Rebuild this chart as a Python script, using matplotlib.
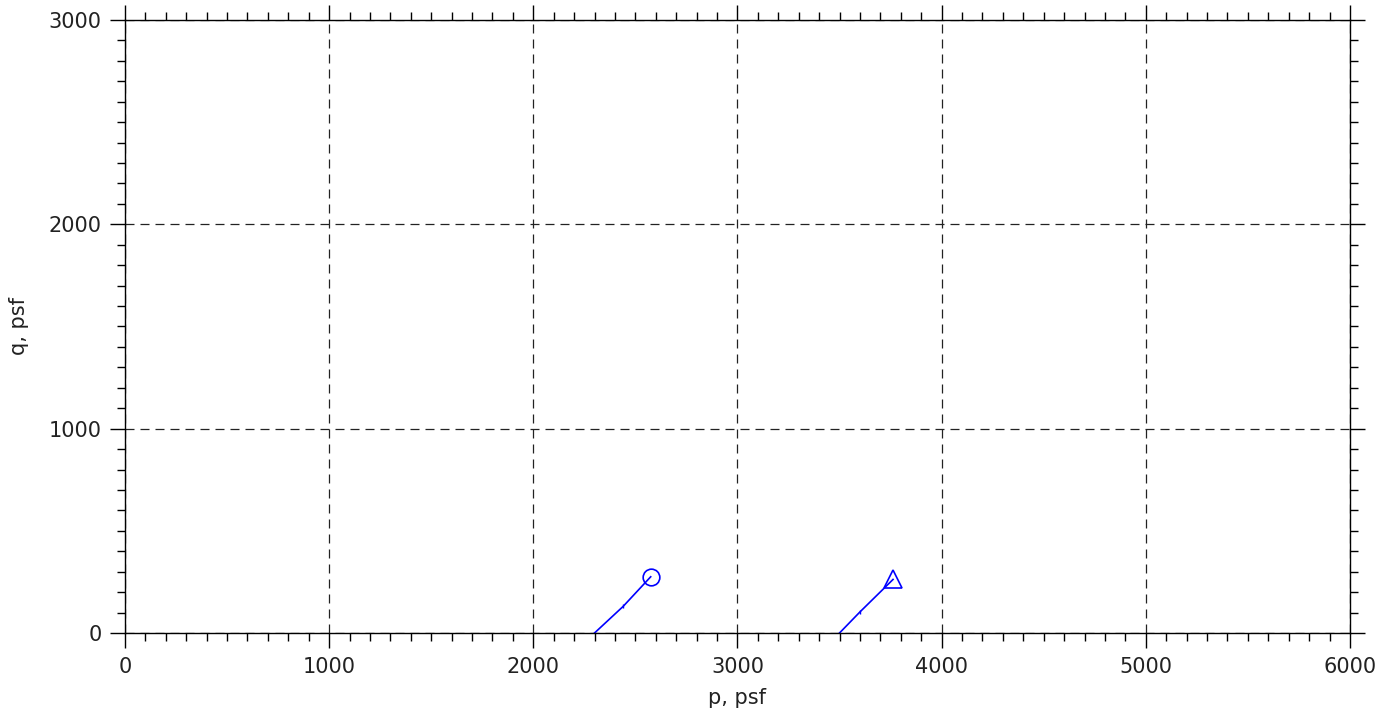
import matplotlib
matplotlib.use("Agg")
import matplotlib.pyplot as plt
from matplotlib.ticker import MultipleLocator

# stress paths (p, q) in psf
p_circle = [2300, 2440, 2575]
q_circle = [0, 130, 275]
p_tri = [3500, 3600, 3762]
q_tri = [0, 103, 262]

x_major = [0, 1000, 2000, 3000, 4000, 5000, 6000]
y_major = [0, 1000, 2000, 3000]

fig = plt.figure(figsize=(13.95, 7.17), dpi=100)
ax = fig.add_axes([0.0896, 0.1172, 0.8781, 0.8549])

ax.set_xlim(0, 6000)
ax.set_ylim(0, 3000)
ax.set_xticks(x_major)
ax.set_yticks(y_major)
ax.xaxis.set_minor_locator(MultipleLocator(100))
ax.yaxis.set_minor_locator(MultipleLocator(100))

ax.grid(True, which="major", color="#222222", linestyle=(0, (7.2, 4.8)), linewidth=0.9)

ax.tick_params(which="both", direction="out", top=True, right=True,
               labeltop=False, labelright=False, color="black", width=1.0,
               labelsize=15, pad=6, labelcolor="#222222")
ax.tick_params(which="major", length=11)
ax.tick_params(which="minor", length=5.5)
for s in ax.spines.values():
    s.set_linewidth(1.0)

# path lines
ax.plot(p_circle, q_circle, color="blue", linewidth=1.2, marker="|", markersize=3,
        markevery=[1])
ax.plot(p_circle[-1], q_circle[-1], marker="o", markersize=12, markerfacecolor="none",
        markeredgecolor="blue", markeredgewidth=1.2, linestyle="none")
ax.plot(p_tri, q_tri, color="blue", linewidth=1.2, marker="|", markersize=3,
        markevery=[1])
ax.plot(p_tri[-1], q_tri[-1], marker="^", markersize=13, markerfacecolor="none",
        markeredgecolor="blue", markeredgewidth=1.2, linestyle="none")

ax.set_xlabel("p, psf", fontsize=15, labelpad=8, color="#222222")
ax.set_ylabel("q, psf", fontsize=15, labelpad=14, color="#222222")

fig.savefig("out.png", dpi=100)
